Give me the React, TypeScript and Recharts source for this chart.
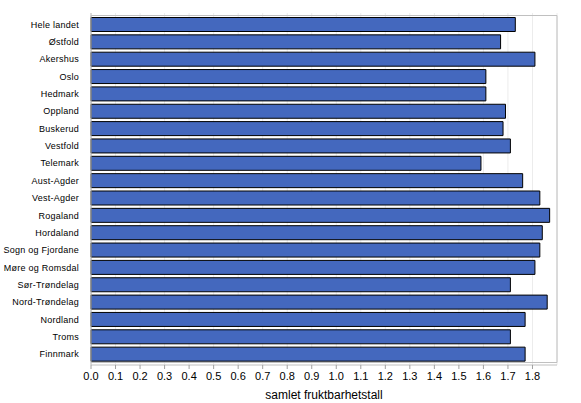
import { BarChart, Bar, XAxis, YAxis, CartesianGrid, ReferenceArea } from "recharts";

const regions = [
  "Hele landet",
  "Østfold",
  "Akershus",
  "Oslo",
  "Hedmark",
  "Oppland",
  "Buskerud",
  "Vestfold",
  "Telemark",
  "Aust-Agder",
  "Vest-Agder",
  "Rogaland",
  "Hordaland",
  "Sogn og Fjordane",
  "Møre og Romsdal",
  "Sør-Trøndelag",
  "Nord-Trøndelag",
  "Nordland",
  "Troms",
  "Finnmark",
];

const fertility = [
  1.73, 1.67, 1.81, 1.61, 1.61, 1.69, 1.68, 1.71, 1.59, 1.76,
  1.83, 1.87, 1.84, 1.83, 1.81, 1.71, 1.86, 1.77, 1.71, 1.77,
];

const xTicks = [0, 0.1, 0.2, 0.3, 0.4, 0.5, 0.6, 0.7, 0.8, 0.9, 1.0, 1.1, 1.2, 1.3, 1.4, 1.5, 1.6, 1.7, 1.8];

const data = regions.map((name, i) => ({ name, value: fertility[i] }));

const font = "'Liberation Sans', Arial, sans-serif";

// plain tick so long names stay on one line
function RegionTick({ x, y, payload }: any) {
  return (
    <text
      x={x - 4}
      y={y}
      dy={3.5}
      textAnchor="end"
      fontSize={9}
      fontFamily={font}
      letterSpacing={0.25}
      fill="#000"
    >
      {payload.value}
    </text>
  );
}

export default function App() {
  return (
    <div style={{ position: "absolute", left: 0, top: 0, background: "#fff" }}>
      <BarChart
        width={581}
        height={403}
        data={data}
        layout="vertical"
        margin={{ top: 13, right: 24, bottom: 18, left: 0 }}
        barSize={14}
      >
        <CartesianGrid horizontal={false} stroke="#ececec" />
        <XAxis
          type="number"
          domain={[0, 1.9]}
          ticks={xTicks}
          tickFormatter={(v) => v.toFixed(1)}
          tickLine={{ stroke: "#a0a0a0" }}
          tickSize={4}
          tickMargin={3}
          axisLine={{ stroke: "#c0c0c0" }}
          tick={{ fontSize: 11, fill: "#000", fontFamily: font }}
          height={20}
          interval={0}
          label={{
            value: "samlet fruktbarhetstall",
            position: "insideBottom",
            offset: -14,
            fontSize: 12,
            fill: "#000",
            fontFamily: font,
          }}
        />
        <YAxis
          type="category"
          dataKey="name"
          width={91}
          tickLine={false}
          axisLine={{ stroke: "#c0c0c0" }}
          interval={0}
          padding={{ top: 2.5, bottom: 2.5 }}
          tick={<RegionTick />}
        />
        <ReferenceArea x1={0} x2={1.9} fill="none" stroke="#c0c0c0" strokeWidth={1} ifOverflow="visible" />
        <Bar dataKey="value" fill="#4468be" stroke="#000" strokeWidth={1} isAnimationActive={false} />
      </BarChart>
    </div>
  );
}
